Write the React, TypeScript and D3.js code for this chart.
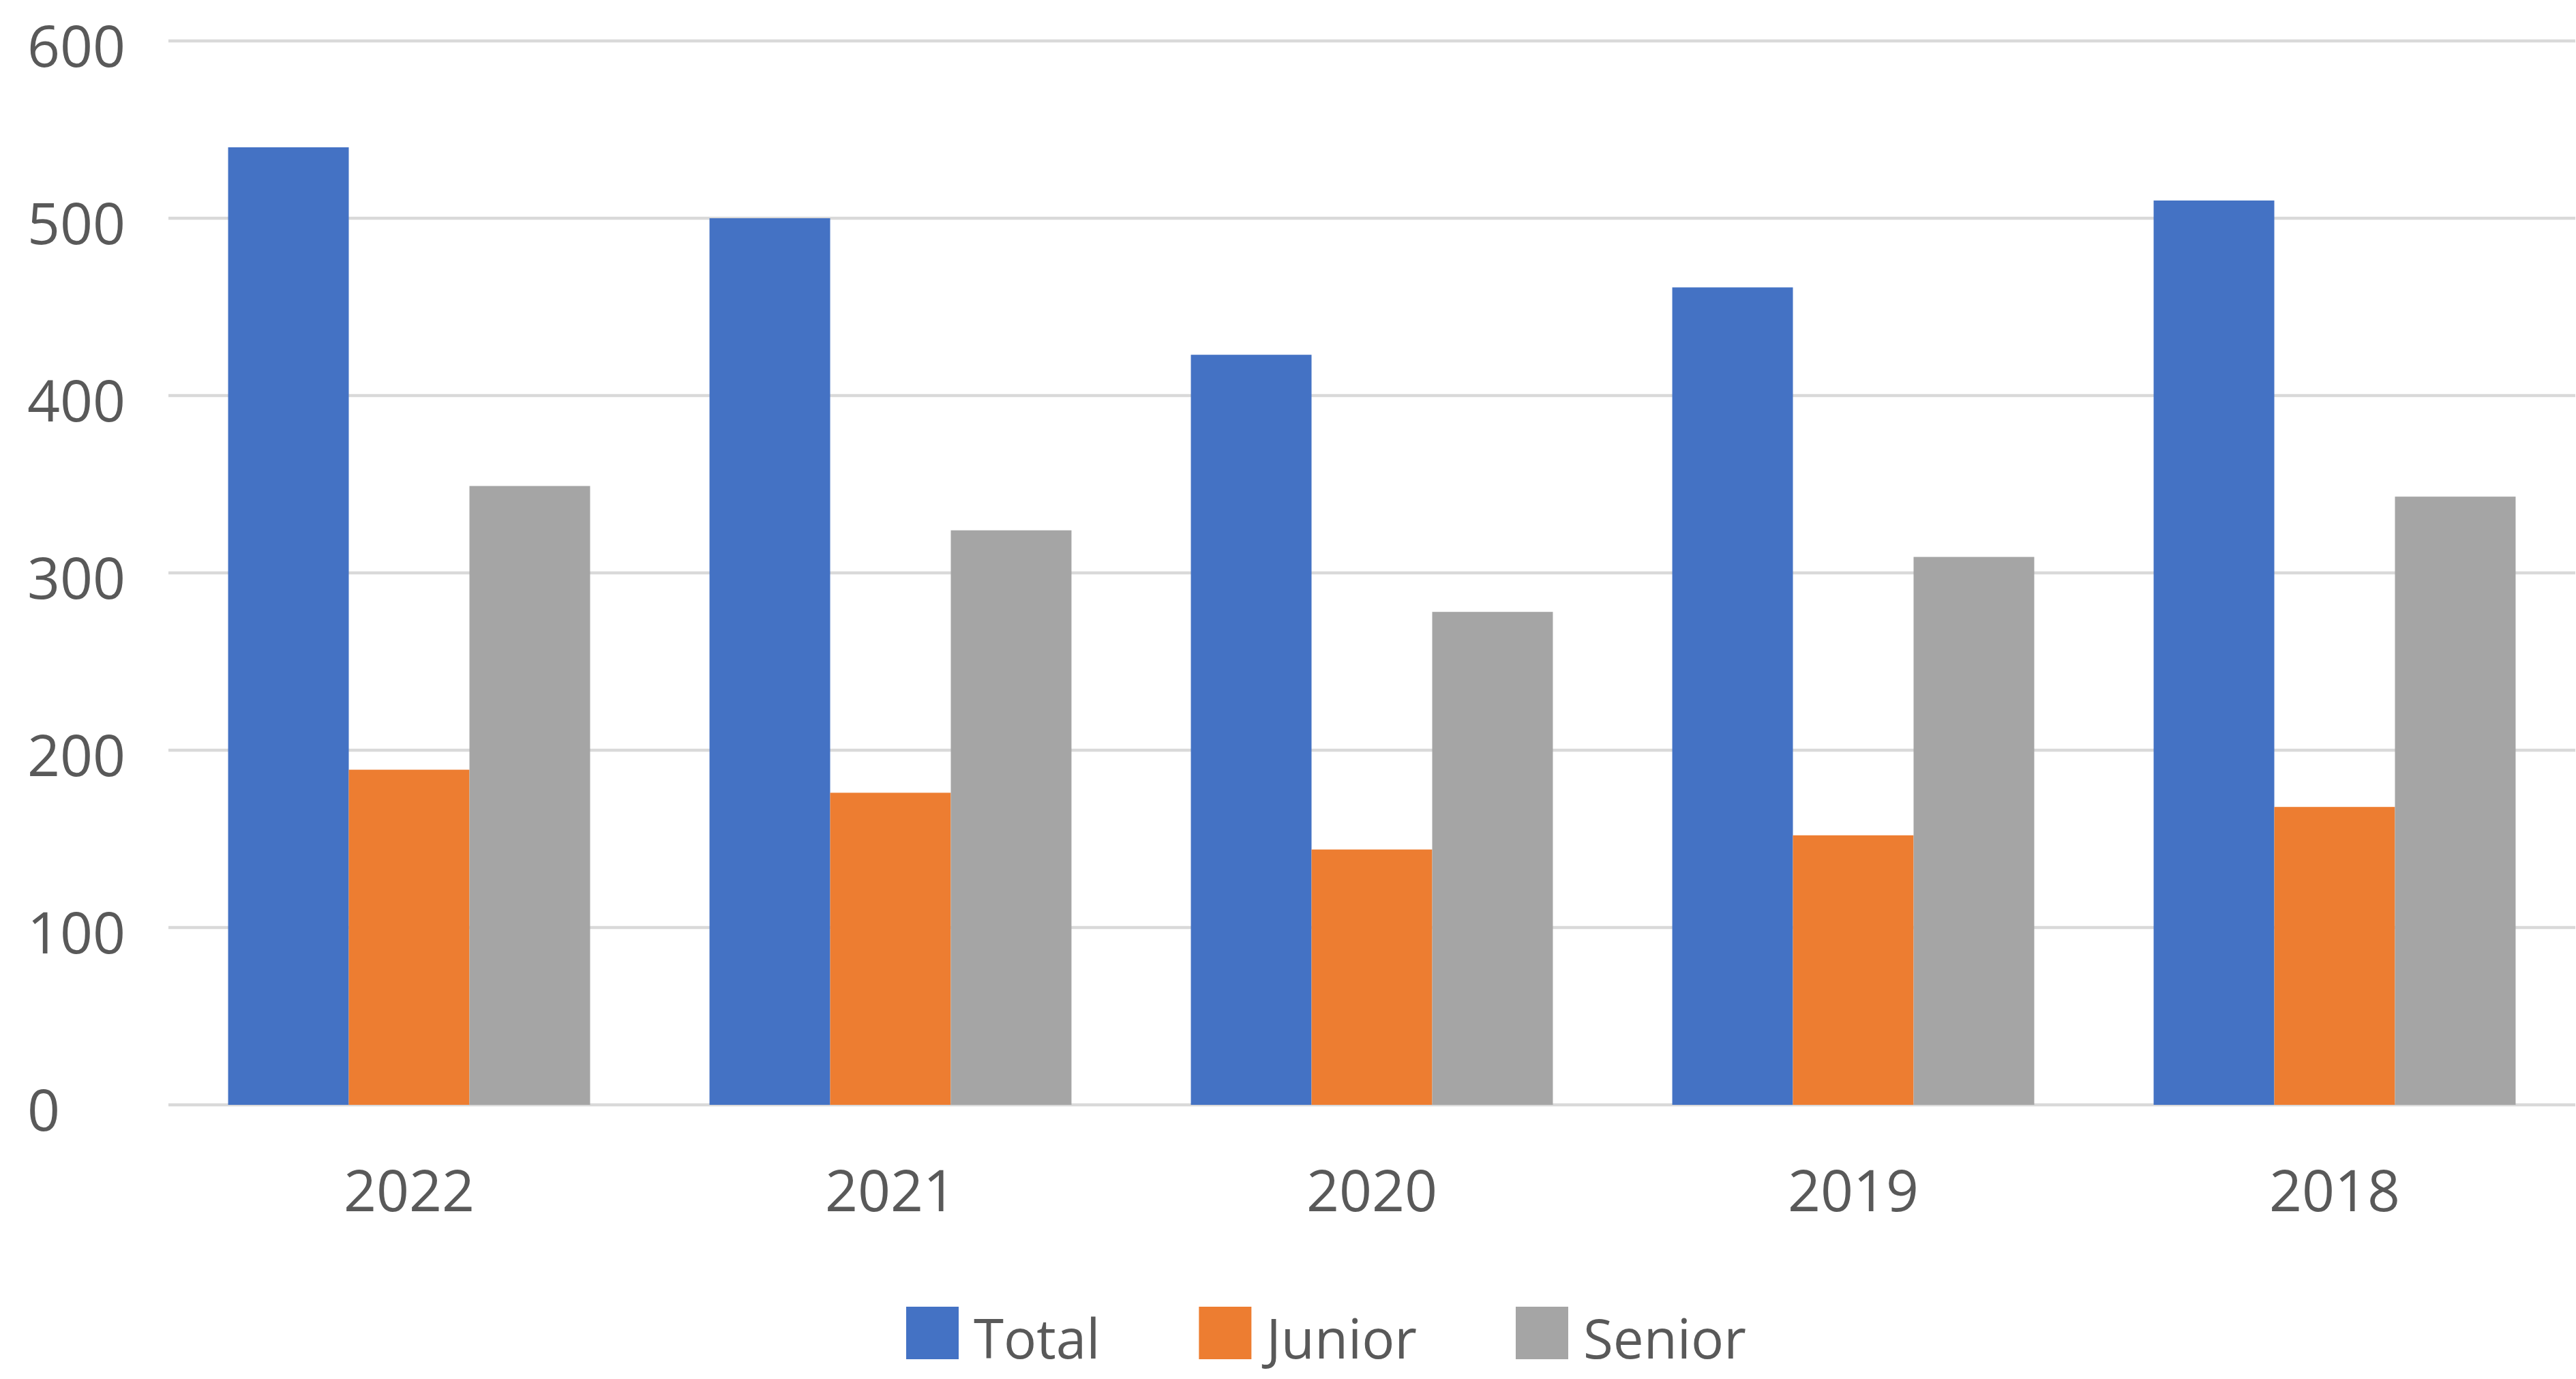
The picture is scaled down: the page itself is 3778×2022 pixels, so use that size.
import { useEffect, useRef } from 'react'
import * as d3 from 'd3'

const years = ['2022', '2021', '2020', '2019', '2018']
const seriesNames = ['Total', 'Junior', 'Senior']
const totalValues = [540, 500, 423, 461, 510]
const juniorValues = [189, 176, 144, 152, 168]
const seniorValues = [349, 324, 278, 309, 343]
const yTicks = [0, 100, 200, 300, 400, 500, 600]

const colors = ['#4472C4', '#ED7D31', '#A5A5A5']

export default function App() {
  const svgRef = useRef<SVGSVGElement>(null)

  const width = 3778
  const height = 2022

  useEffect(() => {
    if (!svgRef.current) return
    const svg = d3.select(svgRef.current)
    svg.selectAll('*').remove()

    const margin = { top: 60, right: 1, bottom: 402, left: 247 }
    const font = '"Open Sans", "Noto Sans", sans-serif'
    const textColor = '#595959'

    const rows = years.map((year, i) => ({
      year,
      values: [totalValues[i], juniorValues[i], seniorValues[i]]
    }))

    const x = d3
      .scaleBand()
      .domain(years)
      .range([margin.left, width - margin.right])
      .paddingInner(0.248)
      .paddingOuter(0.124)

    const xSub = d3
      .scaleBand()
      .domain(seriesNames)
      .range([0, x.bandwidth()])
      .padding(0)

    const y = d3
      .scaleLinear()
      .domain([0, 600])
      .range([height - margin.bottom, margin.top])

    // Gridlines
    svg.append('g')
      .selectAll('line')
      .data(yTicks)
      .enter()
      .append('line')
      .attr('x1', margin.left)
      .attr('x2', width - margin.right)
      .attr('y1', d => y(d))
      .attr('y2', d => y(d))
      .attr('stroke', '#d9d9d9')
      .attr('stroke-width', 4.5)

    // Y labels
    svg.append('g')
      .selectAll('text')
      .data(yTicks)
      .enter()
      .append('text')
      .attr('x', 40)
      .attr('y', d => y(d) + 38)
      .attr('font-family', font)
      .attr('font-size', 84)
      .attr('fill', textColor)
      .text(d => String(d))

    // Bars
    const groups = svg.append('g')
      .selectAll('g')
      .data(rows)
      .enter()
      .append('g')
      .attr('transform', d => `translate(${x(d.year)},0)`)

    groups.selectAll('rect')
      .data(d => d.values.map((v, i) => ({ key: seriesNames[i], value: v, idx: i })))
      .enter()
      .append('rect')
      .attr('x', d => xSub(d.key) as number)
      .attr('width', xSub.bandwidth())
      .attr('y', d => y(d.value))
      .attr('height', d => y(0) - y(d.value))
      .attr('fill', d => colors[d.idx])

    // X labels
    svg.append('g')
      .selectAll('text')
      .data(years)
      .enter()
      .append('text')
      .attr('x', d => (x(d) as number) + x.bandwidth() / 2)
      .attr('y', 1776)
      .attr('text-anchor', 'middle')
      .attr('font-family', font)
      .attr('font-size', 84)
      .attr('fill', textColor)
      .text(d => d)

    // Legend (kept just inside the bottom edge)
    const legend = svg.append('g')
    const legendBase = 1992
    let cursor = 1329
    seriesNames.forEach((name, i) => {
      legend.append('rect')
        .attr('x', cursor)
        .attr('y', legendBase - 76)
        .attr('width', 77)
        .attr('height', 77)
        .attr('fill', colors[i])
      const t = legend.append('text')
        .attr('x', cursor + 99)
        .attr('y', legendBase)
        .attr('font-family', font)
        .attr('font-size', 80)
        .attr('fill', textColor)
        .text(name)
      const w = (t.node() as SVGTextElement).getComputedTextLength()
      cursor = cursor + 99 + w + 145
    })
  }, [])

  return (
    <svg
      ref={svgRef}
      width={width}
      height={height}
      style={{ position: 'absolute', left: 0, top: 0, background: '#ffffff' }}
    />
  )
}
